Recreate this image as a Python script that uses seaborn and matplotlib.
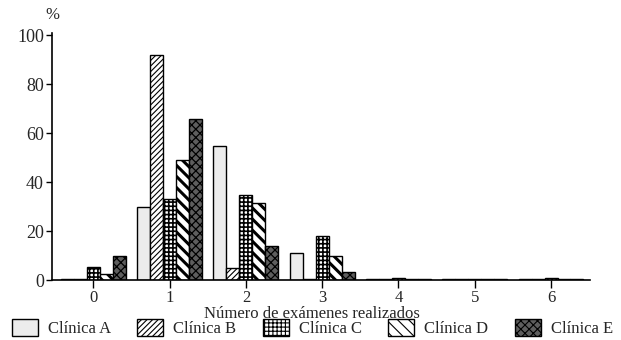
import numpy as np
import pandas as pd
import matplotlib
matplotlib.use("Agg")
import matplotlib.pyplot as plt
import matplotlib.patches as mpatches
import seaborn as sns

# Percentage of patients by number of tests performed, per clinic
examenes = ["0", "1", "2", "3", "4", "5", "6"]
clinica_a = [0.3, 30, 55, 11, 0.4, 0.3, 0.5]
clinica_b = [0.3, 92, 5, 0.5, 0.3, 0.3, 0.4]
clinica_c = [5.5, 33, 35, 18, 1.0, 0.3, 1.0]
clinica_d = [2.5, 49, 31.5, 10, 0.3, 0.3, 0.3]
clinica_e = [10, 66, 14, 3.5, 0.3, 0.3, 0.3]
clinicas = ["Clínica A", "Clínica B", "Clínica C", "Clínica D", "Clínica E"]
y_ticks = [0, 20, 40, 60, 80, 100]

series = [clinica_a, clinica_b, clinica_c, clinica_d, clinica_e]
df = pd.DataFrame({
    "examenes": np.tile(examenes, len(clinicas)),
    "clinica": np.repeat(clinicas, len(examenes)),
    "pct": np.concatenate(series),
})

sns.set_theme(style="ticks")
plt.rcParams["font.family"] = ["Liberation Serif", "DejaVu Serif"]
plt.rcParams["hatch.linewidth"] = 0.8

fig = plt.figure(figsize=(6.21, 3.40), dpi=100)
ax = fig.add_axes([0.084, 0.176, 0.866, 0.727])

sns.barplot(data=df, x="examenes", y="pct", hue="clinica", order=examenes,
            hue_order=clinicas, width=0.85, ax=ax, legend=False,
            edgecolor="black", linewidth=1.0)

# fill style per clinic: (facecolor, hatch, hatch line width)
styles = [
    ("#ececec", "", 0.8),
    ("white", "//////", 0.8),
    ("white", "++++", 1.2),
    ("white", "\\\\\\", 2.2),
    ("#5e5e5e", "xxxx", 0.9),
]
for cont, (fc, hatch, hlw) in zip(ax.containers, styles):
    for p in cont.patches:
        p.set_facecolor(fc)
        p.set_edgecolor("black")
        p.set_hatch(hatch)
        if hasattr(p, "set_hatch_linewidth"):
            p.set_hatch_linewidth(hlw)

ax.set_xlim(-0.54, 6.51)
ax.set_ylim(0, 101)
ax.set_yticks(y_ticks)
ax.set_ylabel("")
ax.set_xlabel("Número de exámenes realizados", fontsize=12)
ax.xaxis.set_label_coords(0.483, -0.137)
ax.xaxis.label.set_va("center")
ax.tick_params(axis="y", labelsize=13, direction="out", length=4,
               width=1, color="black", pad=2)
ax.tick_params(axis="x", labelsize=12, direction="out", length=6,
               width=1, color="black", pad=1)
for side in ("top", "right"):
    ax.spines[side].set_visible(False)
for side in ("left", "bottom"):
    ax.spines[side].set_color("black")
    ax.spines[side].set_linewidth(1.2)

fig.text(0.084, 0.955, "%", fontsize=12, ha="center", va="center")

handles = []
for (fc, hatch, hlw), name in zip(styles, clinicas):
    h = mpatches.Patch(facecolor=fc, edgecolor="black", hatch=hatch,
                       linewidth=1.0, label=name)
    if hasattr(h, "set_hatch_linewidth"):
        h.set_hatch_linewidth(hlw)
    handles.append(h)
fig.legend(handles=handles, loc="center", bbox_to_anchor=(0.503, 0.035),
           ncol=5, frameon=False, fontsize=12, handlelength=1.55,
           handleheight=1.15, handletextpad=0.6, columnspacing=1.6,
           borderaxespad=0, borderpad=0)

fig.savefig("out.png", dpi=100)
